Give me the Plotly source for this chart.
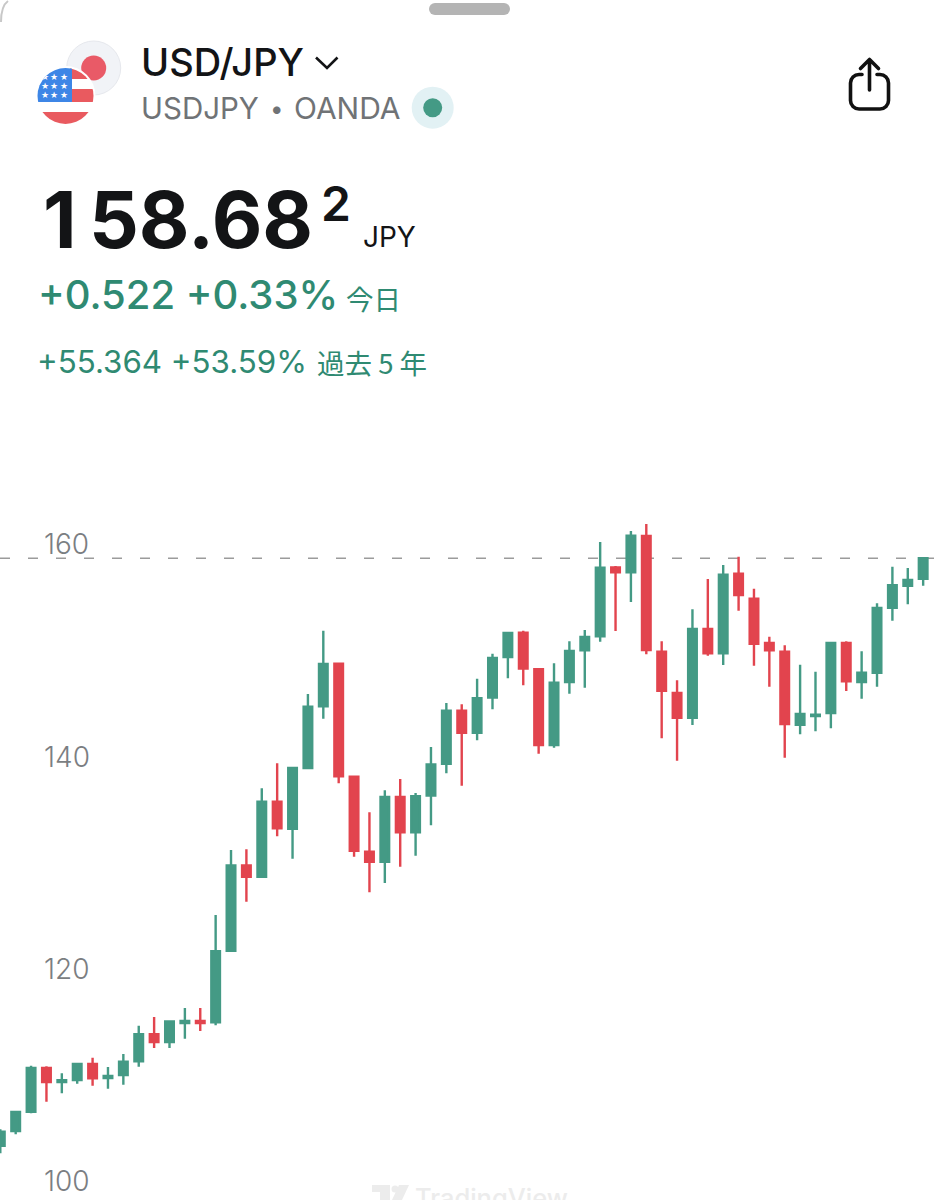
import base64
import plotly.graph_objects as go

PAGE_W = 939
PAGE_H = 1200

# monthly candles
opens = [103.37, 104.76, 106.57, 110.69, 109.37, 109.56, 111.06, 109.75, 110.03, 111.32,
         113.86, 113.14, 114.92, 115.11, 114.99, 121.73, 129.77, 128.70, 135.76, 133.22,
         138.94, 144.75, 148.76, 138.12, 131.05, 130.11, 136.21, 132.88, 136.33, 139.34,
         144.33, 142.26, 145.56, 149.39, 151.68, 148.23, 141.10, 147.03, 150.02, 151.34,
         157.83, 157.36, 160.78, 149.89, 146.00, 143.67, 152.02, 149.74, 157.23, 154.88,
         150.71, 149.89, 143.01, 143.83, 144.11, 150.71, 147.03, 147.91, 154.03, 156.10,
         156.76]
highs = [104.92, 106.67, 110.90, 110.85, 110.19, 111.06, 111.66, 110.78, 112.01, 114.67,
         115.49, 115.14, 116.34, 116.34, 125.09, 131.21, 131.28, 137.02, 139.38, 139.06,
         145.90, 151.86, 148.82, 138.18, 134.76, 136.84, 137.90, 136.58, 140.91, 145.06,
         144.93, 147.34, 149.70, 151.65, 151.86, 148.29, 148.79, 150.87, 151.93, 160.22,
         157.96, 161.25, 161.91, 150.87, 147.19, 153.88, 156.73, 158.05, 158.83, 155.82,
         151.30, 150.49, 148.66, 148.00, 150.77, 150.87, 149.92, 154.44, 157.89, 157.77,
         158.78]
lows = [102.66, 104.44, 106.42, 107.51, 108.31, 109.21, 109.02, 108.74, 109.11, 110.81,
        112.57, 112.57, 113.45, 114.17, 114.71, 121.66, 126.35, 128.67, 132.50, 130.40,
        138.87, 143.58, 137.50, 130.58, 127.23, 128.11, 129.64, 130.68, 133.54, 138.44,
        137.27, 141.54, 144.46, 147.38, 146.72, 140.28, 140.85, 145.93, 146.50, 150.83,
        151.84, 154.57, 149.64, 141.73, 139.62, 142.98, 149.51, 148.63, 153.75, 148.57,
        146.59, 139.91, 142.11, 142.39, 142.67, 146.19, 145.46, 146.59, 152.81, 154.35,
        156.10]
closes = [104.69, 106.54, 110.69, 109.37, 109.53, 111.06, 109.72, 109.93, 111.28, 113.86,
          113.14, 115.08, 115.11, 114.92, 121.68, 129.77, 128.70, 135.76, 133.26, 138.94,
          144.71, 148.73, 138.15, 131.15, 130.11, 136.21, 132.88, 136.27, 139.28, 144.33,
          142.26, 145.50, 149.29, 151.65, 148.29, 141.10, 146.97, 149.95, 151.27, 157.80,
          157.36, 160.81, 150.05, 146.21, 143.67, 152.02, 149.74, 157.14, 155.23, 150.64,
          150.02, 143.08, 144.02, 143.95, 150.71, 147.10, 147.91, 154.00, 156.14, 156.64,
          158.68]
tick_vals = [100, 120, 140, 160]

GREEN = "#449a85"
RED = "#e2444e"
TEXT_GREEN = "#2f8a72"
GREY = "#707376"
INK = "#131416"


def label(x, y, text, size, color, weight=400, family="Inter", anchor="left"):
    # x, y in page pixels
    return dict(
        xref="paper", yref="paper", x=x / PAGE_W, y=1 - y / PAGE_H,
        text=text, showarrow=False, xanchor=anchor, yanchor="middle",
        borderpad=0, font=dict(family=family, size=size, color=color, weight=weight),
    )


# flags, share icon and the rest of the app chrome
icons_svg = f"""<svg xmlns="http://www.w3.org/2000/svg" width="{PAGE_W}" height="{PAGE_H}" viewBox="0 0 {PAGE_W} {PAGE_H}">
<defs><clipPath id="us"><circle cx="65.5" cy="96" r="28"/></clipPath></defs>
<path d="M1 22 Q1 6 8 1" fill="none" stroke="#c8c8c8" stroke-width="2"/>
<rect x="429" y="3" width="81" height="12" rx="6" fill="#b4b4b4"/>
<circle cx="93.7" cy="68" r="27" fill="#f1f3f7" stroke="#e6e8ed" stroke-width="1"/>
<circle cx="93.7" cy="68" r="12.5" fill="#e95a67"/>
<circle cx="65.5" cy="96" r="30" fill="#ffffff"/>
<g clip-path="url(#us)">
<rect x="37" y="68" width="58" height="56" fill="#ffffff"/>
<rect x="70" y="68" width="25" height="11" fill="#e95a5f"/>
<rect x="70" y="89" width="25" height="13" fill="#e95a5f"/>
<rect x="37" y="112" width="58" height="13" fill="#e95a5f"/>
<rect x="37" y="68" width="35" height="34" fill="#3d86e6"/>
<g fill="#ffffff" font-size="9" font-family="DejaVu Sans" text-anchor="middle">
<text x="45" y="80">★</text><text x="54" y="80">★</text><text x="64" y="80">★</text>
<text x="45" y="89">★</text><text x="54" y="89">★</text><text x="64" y="89">★</text>
<text x="45" y="98">★</text><text x="54" y="98">★</text><text x="64" y="98">★</text>
</g></g>
<path d="M316 57.5 L327 68 L337.5 57.5" fill="none" stroke="{INK}" stroke-width="2.6"/>
<circle cx="432.7" cy="107.7" r="21" fill="#e2f1f4"/>
<circle cx="432.7" cy="107.7" r="9.5" fill="{GREEN}"/>
<g fill="none" stroke="#111111" stroke-width="3.6" stroke-linecap="round" stroke-linejoin="round">
<path d="M862 74.5 H859 a8.5 8.5 0 0 0 -8.5 8.5 V100.5 a8.5 8.5 0 0 0 8.5 8.5 H880 a8.5 8.5 0 0 0 8.5 -8.5 V83 a8.5 8.5 0 0 0 -8.5 -8.5 H877"/>
<path d="M869.5 90 V59.5 M860.5 68.5 L869.5 59.5 L878.5 68.5"/>
</g>
<g fill="#ececec">
<path d="M372 1185 H390 V1200 H380 V1192 H372 Z"/>
<circle cx="395" cy="1189" r="3.5"/>
<path d="M399 1185 H409 L402 1200 H392 Z"/>
</g>
</svg>"""
icons_uri = "data:image/svg+xml;base64," + base64.b64encode(icons_svg.encode("utf-8")).decode("ascii")

fig = go.Figure(go.Candlestick(
    x=list(range(len(opens))),
    open=opens, high=highs, low=lows, close=closes,
    increasing=dict(line=dict(color=GREEN, width=2.4), fillcolor=GREEN),
    decreasing=dict(line=dict(color=RED, width=2.4), fillcolor=RED),
    whiskerwidth=0,
    showlegend=False,
))

fig.update_layout(
    width=PAGE_W,
    height=PAGE_H,
    margin=dict(l=0, r=0, t=0, b=0),
    paper_bgcolor="white",
    plot_bgcolor="white",
    boxgap=0.2,
    xaxis=dict(visible=False, range=[-0.02, 61.03], rangeslider=dict(visible=False)),
    yaxis=dict(
        range=[98.258, 211.252],
        tickvals=tick_vals,
        showgrid=False,
        zeroline=False,
        showline=False,
        ticks="",
        ticklabelposition="inside",
        ticklabelstandoff=41,
        tickfont=dict(family="Inter", size=28, color="#7b7e82", weight=300),
    ),
    images=[dict(
        source=icons_uri, xref="paper", yref="paper", x=0, y=1,
        sizex=1, sizey=1, xanchor="left", yanchor="top", sizing="stretch", layer="below",
    )],
    shapes=[dict(
        type="line", xref="paper", yref="y", x0=0, x1=1, y0=closes[-1], y1=closes[-1],
        line=dict(color="#9b9b9b", width=1.4, dash="10px,18px"), layer="below",
    )],
    annotations=[
        label(140, 62, "USD/JPY", 38, INK, 500),
        label(140, 108, "USDJPY", 29.5, GREY),
        label(277, 109, "•", 24, GREY, anchor="center"),
        label(293, 108, "OANDA", 30, GREY),
        label(42, 219, "1\u200958.68", 78, INK, 700),
        label(320, 203, "2", 48, INK, 600),
        label(362, 237, "JPY", 28, INK),
        label(36.5, 294, "+0.522 +0.33%", 40, TEXT_GREEN, 500),
        label(345, 298, "今日", 27.5, TEXT_GREEN, family="Noto Sans CJK JP"),
        label(36, 362, "+55.364 +53.59%", 31.3, TEXT_GREEN),
        label(316, 362, "過去 5 年", 27.5, TEXT_GREEN, family="Noto Sans CJK JP"),
        label(414, 1197, "TradingView", 25.5, "#ececec", 500),
    ],
)

fig.write_html("out.html", config=dict(displayModeBar=False),
               post_script="document.body.style.margin='0';document.documentElement.style.overflow='hidden';")
